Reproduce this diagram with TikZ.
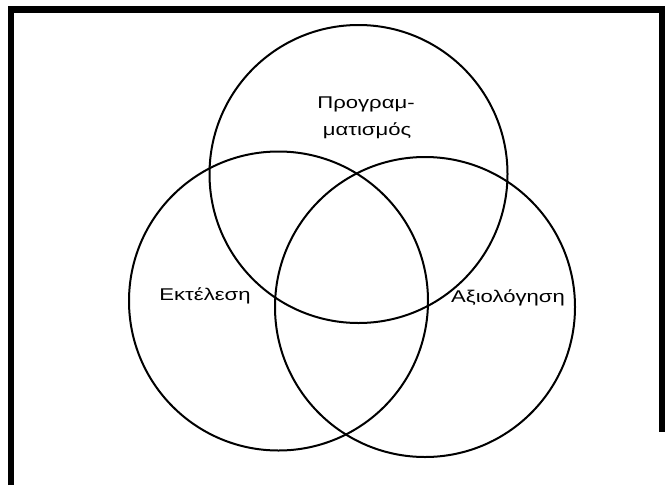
\documentclass[tikz,border=0pt]{standalone}
\usepackage{fontspec}
\setmainfont{Liberation Sans}
\begin{document}
\begin{tikzpicture}[x=1pt,y=-1pt,
  ring/.style={draw=black,circle,line width=2pt,inner sep=0pt,minimum size=#1},
  lbl/.style={inner sep=0pt,font=\fontsize{17}{17}\selectfont},
  frame/.style={line width=6.5pt,line join=miter}]
\useasboundingbox (0,0) rectangle (669,485);
\fill[white] (0,0) rectangle (669,485);
\draw[frame] (11,485) -- (11,9.5) -- (662,9.5) -- (662,432);
\node[ring=298pt] (top) at (358.5,174) {};
\node[ring=299pt] (left) at (278.5,301) {};
\node[ring=300pt] (right) at (425,307) {};
\node[lbl] (p1) at (366,104) {\scalebox{1.3}[1]{Προγραμ-}};
\node[lbl] (p2) at (367,131) {\scalebox{1.3}[1]{ματισμός}};
\node[lbl] (ek) at (205,296) {\scalebox{1.3}[1]{Εκτέλεση}};
\node[lbl] (ax) at (508,298) {\scalebox{1.3}[1]{Αξιολόγηση}};
\end{tikzpicture}
\end{document}
